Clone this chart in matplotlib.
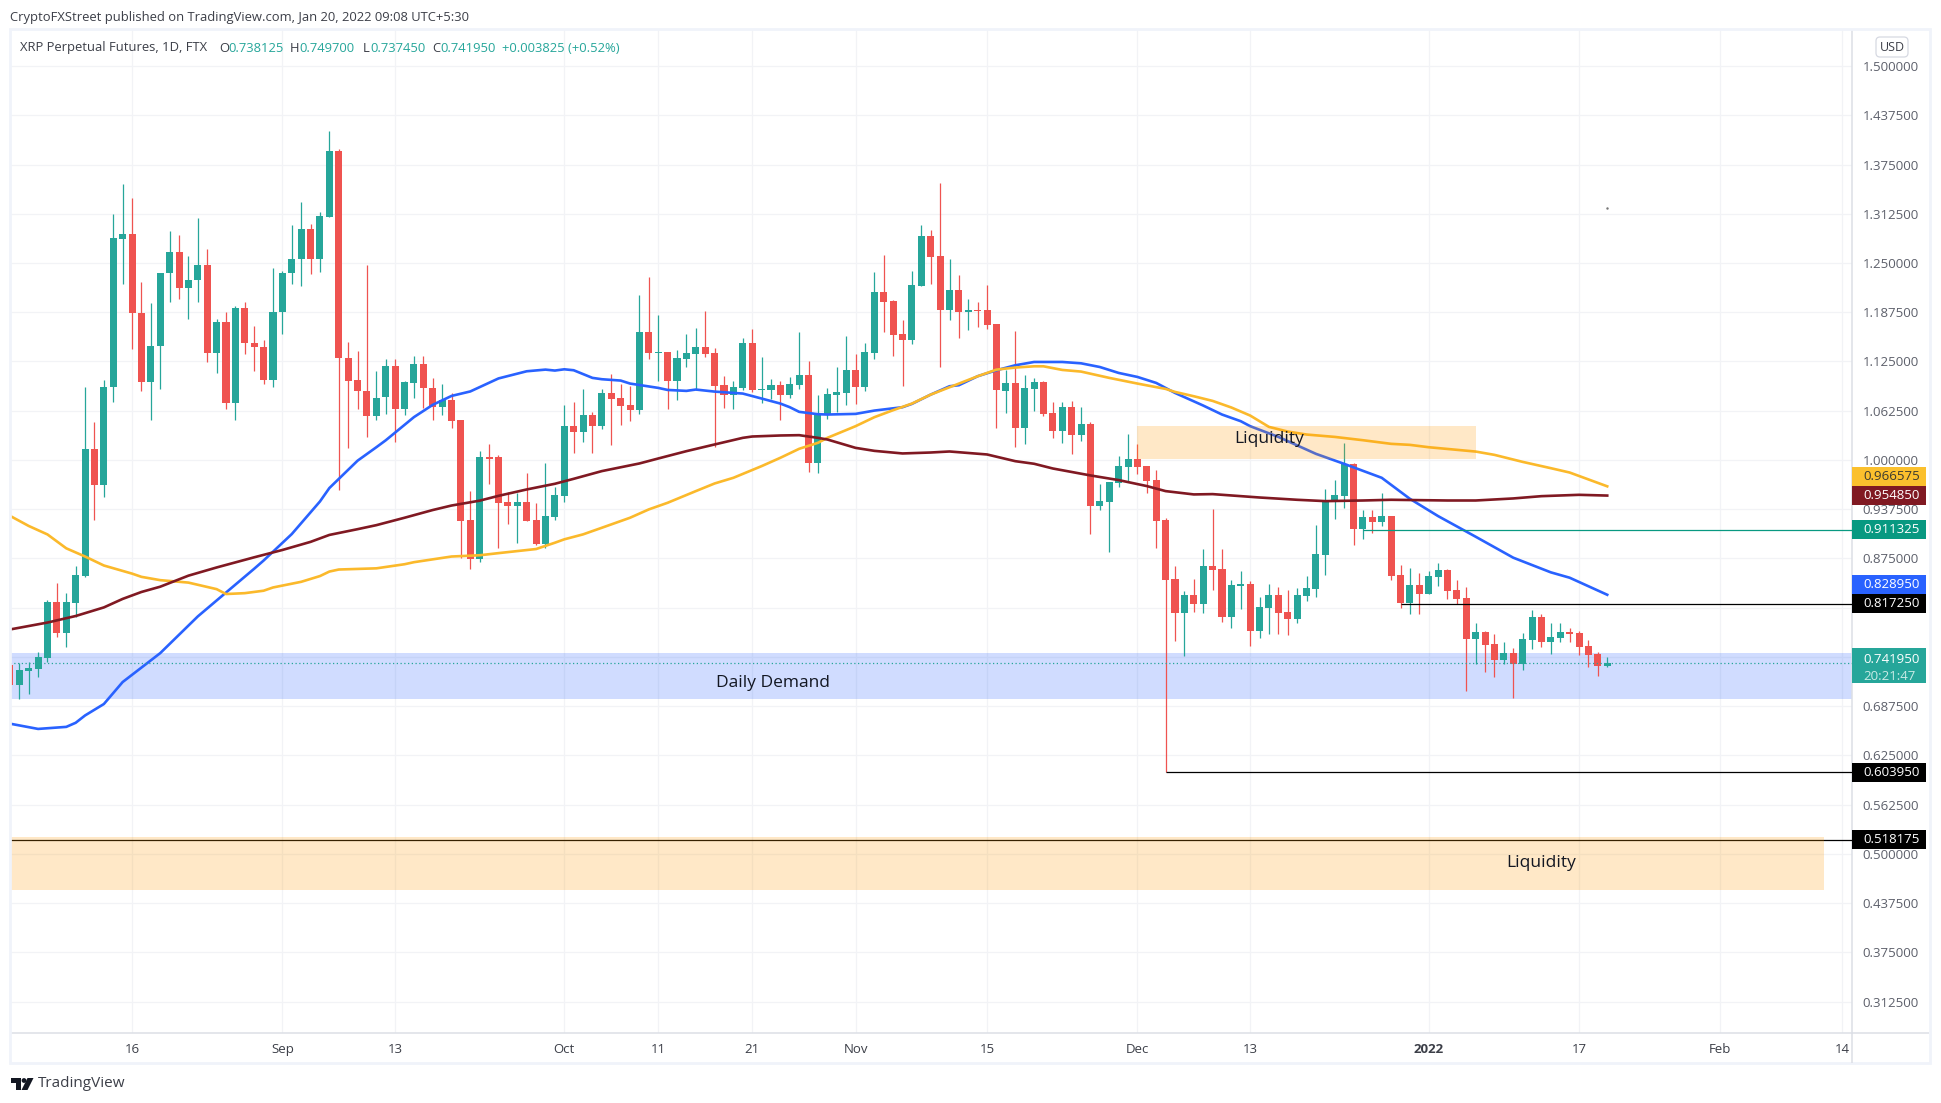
from datetime import date
import numpy as np
import matplotlib as mpl
mpl.use('Agg')
import matplotlib.pyplot as plt
from matplotlib.patches import Rectangle, Polygon, Circle, FancyBboxPatch
from matplotlib.transforms import Affine2D, blended_transform_factory

W, H = 1941, 1103
plt.rcParams['font.family'] = ['Open Sans', 'DejaVu Sans']

# daily candles, first one is 3 Aug 2021, last one 20 Jan 2022
start_day = date(2021, 8, 3)
opens = [
    .7394, .7141, .7327, .7348, .7487, .8196, .7808, .8180, .8522, 1.0136,
    .9680, 1.0922, 1.2810, 1.2872, 1.1869, 1.0989, 1.1445, 1.2370, 1.2645, 1.2179,
    1.2282, 1.2479, 1.1357, 1.1755, 1.0720, 1.1931, 1.1491, 1.1440, 1.1015, 1.1874,
    1.2370, 1.2546, 1.2934, 1.2557, 1.3090, 1.3922, 1.1300, 1.1010, 1.0880, 1.0555,
    1.0798, 1.1196, 1.0648, 1.0974, 1.1222, 1.0917, 1.0669, 1.0767, 1.0503, .9236,
    .8744, 1.0042, 1.0032, .9461, .9411, .9461, .9233, .8929, .9271, .9542,
    1.0437, 1.0361, 1.0577, 1.0437, 1.0856, 1.0792, 1.0704, 1.0640, 1.1629, 1.1363,
    1.1375, 1.1000, 1.1287, 1.1350, 1.1439, 1.1363, 1.0957, 1.0830, 1.0915, 1.1489,
    1.0894, 1.0894, 1.0957, 1.0830, 1.0957, 1.1084, .9956, 1.0577, 1.0830, 1.0856,
    1.1147, 1.0932, 1.1363, 1.2136, 1.2022, 1.1604, 1.1527, 1.2212, 1.2846, 1.2592,
    1.1908, 1.2161, 1.1882, 1.1908, 1.1908, 1.1730, 1.0881, 1.0983, 1.0412, 1.0906,
    1.0995, 1.0602, 1.0374, 1.0678, 1.0323, 1.0463, .9411, .9461, .9702, .9905,
    1.0007, .9918, .9740, .9233, .8485, .8055, .8283, .8169, .8650, .8612,
    .8004, .8397, .8422, .7826, .8117, .8282, .8067, .7978, .8269, .8358,
    .8790, .9474, .9537, .9943, .9119, .9271, .9207, .9284, .8536, .8181,
    .8409, .8295, .8510, .8599, .8346, .8244, .7724, .7813, .7661, .7458,
    .7547, .7408, .7712, .8003, .7686, .7737, .7813, .7800, .7636, .7534,
    .738125,
]
highs = [
    .7450, .7420, .7430, .7560, .8222, .8434, .8310, .8661, 1.0932, 1.0477,
    1.1010, 1.3126, 1.3503, 1.3327, 1.2262, 1.1998, 1.2376, 1.2908, 1.2857, 1.2593,
    1.3074, 1.2681, 1.1791, 1.1884, 1.1957, 1.2008, 1.1703, 1.1517, 1.2438, 1.2402,
    1.2986, 1.3276, 1.2996, 1.3152, 1.4176, 1.3948, 1.1501, 1.1387, 1.2479, 1.1134,
    1.1284, 1.1284, 1.1000, 1.1326, 1.1326, 1.1046, 1.0969, 1.0855, 1.0513, .9603,
    1.0110, 1.0198, 1.0058, .9600, .9584, .9829, .9449, .9956, .9652, 1.0704,
    1.0742, 1.0906, 1.0615, 1.0906, 1.1097, 1.0970, 1.0944, 1.2098, 1.2326, 1.1844,
    1.1375, 1.1400, 1.1604, 1.1680, 1.1895, 1.1426, 1.1071, 1.1000, 1.1553, 1.1667,
    1.1312, 1.1033, 1.1000, 1.1059, 1.1629, 1.1261, 1.0830, 1.0919, 1.1185, 1.1578,
    1.1350, 1.1490, 1.2389, 1.2605, 1.2034, 1.1781, 1.2402, 1.2985, 1.2922, 1.3517,
    1.2554, 1.2351, 1.2047, 1.2010, 1.2225, 1.1730, 1.1147, 1.1642, 1.1084, 1.1046,
    1.1008, 1.0742, 1.0742, 1.0754, 1.0678, 1.0488, .9690, .9715, 1.0045, 1.0336,
    1.0209, .9930, .9867, .9259, .8650, .8333, .8485, .8866, .9373, .8866,
    .8473, .8587, .8460, .8257, .8422, .8384, .8346, .8371, .8523, .9169,
    .9626, .9752, 1.0221, .9968, .9360, .9360, .9575, .9284, .8662, .8624,
    .8561, .8586, .8688, .8612, .8472, .8384, .7927, .7826, .7788, .7686,
    .7610, .7800, .8092, .8041, .7927, .7927, .7864, .7826, .7712, .7560,
    .749700,
]
lows = [
    .7050, .6965, .7027, .7244, .7430, .7756, .7622, .8010, .8511, .9241,
    .9525, 1.0731, 1.2236, 1.1413, 1.0870, 1.0513, 1.0907, 1.2008, 1.2045, 1.1791,
    1.2008, 1.1238, 1.1098, 1.0643, 1.0513, 1.1351, 1.1134, 1.0969, 1.0932, 1.1605,
    1.2236, 1.2210, 1.2365, 1.2391, 1.3090, .9613, 1.0146, 1.0653, 1.0296, 1.0513,
    1.0590, 1.0234, 1.0575, 1.0793, 1.0663, 1.0513, 1.0575, 1.0400, .8750, .8615,
    .8703, .9701, .8879, .9183, .8942, .9221, .8916, .8878, .9233, .9466,
    1.0095, 1.0222, 1.0083, 1.0399, 1.0184, 1.0450, 1.0500, 1.0590, 1.1287, 1.1000,
    1.0653, 1.0767, 1.1185, 1.0894, 1.1312, 1.0159, 1.0666, 1.0653, 1.0894, 1.0868,
    1.0729, 1.0780, 1.0513, 1.0792, 1.0906, .9842, .9829, 1.0526, 1.0615, 1.0704,
    1.0716, 1.0881, 1.1287, 1.1629, 1.1325, 1.0944, 1.1477, 1.2212, 1.2237, 1.1185,
    1.1781, 1.1553, 1.1654, 1.1692, 1.1667, 1.0412, 1.0602, 1.0159, 1.0197, 1.0628,
    1.0552, 1.0285, 1.0210, 1.0070, 1.0235, .9056, .9360, .8828, .9652, .9728,
    .9816, .9576, .8878, .60395, .7700, .7510, .8067, .8055, .8346, .7941,
    .7865, .8105, .7636, .7738, .7788, .7788, .7775, .7927, .8206, .8257,
    .8536, .9246, .9385, .8916, .9000, .9068, .9157, .8472, .8117, .8041,
    .8041, .8295, .8396, .8231, .8168, .7065, .7408, .7306, .7243, .7408,
    .6977, .7332, .7598, .7623, .7534, .7686, .7686, .7522, .7370, .7255,
    .737450,
]
closes = [
    .7141, .7332, .7358, .7498, .8196, .7808, .8196, .8537, 1.0136, .9680,
    1.0932, 1.2820, 1.2872, 1.1863, 1.0989, 1.1450, 1.2376, 1.2645, 1.2179, 1.2288,
    1.2479, 1.1357, 1.1755, 1.0720, 1.1931, 1.1481, 1.1429, 1.1015, 1.1884, 1.2376,
    1.2552, 1.2934, 1.2557, 1.3100, 1.3922, 1.1289, 1.1000, 1.0875, 1.0555, 1.0793,
    1.1196, 1.0648, 1.0984, 1.1222, 1.0912, 1.0669, 1.0767, 1.0493, .9225, .8744,
    1.0042, 1.0017, .9453, .9411, .9461, .9221, .8929, .9284, .9550, 1.0437,
    1.0361, 1.0577, 1.0437, 1.0856, 1.0780, 1.0691, 1.0640, 1.1629, 1.1363, 1.1375,
    1.1000, 1.1300, 1.1363, 1.1439, 1.1350, 1.0944, 1.0830, 1.0932, 1.1489, 1.0894,
    1.0906, 1.0957, 1.0830, 1.0970, 1.1084, .9956, 1.0602, 1.0843, 1.0868, 1.1147,
    1.0932, 1.1375, 1.2136, 1.2009, 1.1591, 1.1527, 1.2225, 1.2846, 1.2579, 1.1908,
    1.2161, 1.1882, 1.1908, 1.1895, 1.1718, 1.0885, 1.0983, 1.0412, 1.0919, 1.0995,
    1.0590, 1.0374, 1.0678, 1.0323, 1.0463, .9411, .9474, .9715, .9918, 1.0007,
    .9905, .9728, .9221, .8473, .8055, .8283, .8169, .8650, .8600, .8004,
    .8409, .8422, .7826, .8130, .8282, .8054, .7978, .8282, .8371, .8802,
    .9486, .9550, .9943, .9119, .9271, .9207, .9284, .8523, .8181, .8409,
    .8295, .8523, .8599, .8333, .8231, .7724, .7813, .7649, .7458, .7547,
    .7408, .7724, .8003, .7686, .7750, .7813, .7788, .7623, .7522, .7382,
    .741950,
]

# moving averages, days counted from 4 Aug
blue_days = [-1, 2, 5, 6, 7, 9, 11, 15, 19, 21, 25, 26, 29, 32, 33, 36, 38, 39, 42, 44,
             46, 48, 51, 54, 56, 57, 58, 59, 61, 62, 64, 65, 68, 69, 71, 72, 74, 77, 79, 81,
             82, 83, 85, 86, 89, 91, 94, 95, 97, 99, 100, 102, 104, 106, 108, 111, 113, 115, 117, 119,
             121, 123, 126, 128, 130, 131, 134, 138, 141, 145, 148, 151, 155, 159, 163, 165, 169]
blue_ma = [.6654, .6587, .6613, .6665, .6758, .6903, .7182, .7549, .8015, .8217, .8620, .8724, .9060, .9474, .9644, .9991, 1.0162, 1.0250, 1.0544, 1.0700,
           1.0813, 1.0870, 1.1035, 1.1126, 1.1147, 1.1135, 1.1151, 1.1139, 1.1042, 1.1025, 1.1008, 1.0970, 1.0915, 1.0889, 1.0877, 1.0894, 1.0868, 1.0843, 1.0780, 1.0716,
           1.0670, 1.0611, 1.0581, 1.0577, 1.0585, 1.0627, 1.0670, 1.0712, 1.0830, 1.0936, 1.0949, 1.1063, 1.1139, 1.1202, 1.1244, 1.1244, 1.1227, 1.1180, 1.1105, 1.1054,
           1.0978, 1.0851, 1.0691, 1.0577, 1.0492, 1.0429, 1.0293, 1.0078, .9951, .9774, .9507, .9288, .9026, .8760, .8574, .8506, .82895]

orange_days = [-1, 1, 3, 5, 7, 9, 12, 13, 15, 18, 21, 22, 24, 26, 27, 30, 32, 33, 34, 38,
               41, 42, 44, 46, 49, 51, 55, 57, 58, 60, 62, 65, 67, 69, 72, 74, 76, 79, 81, 83,
               85, 86, 89, 91, 93, 95, 97, 99, 102, 104, 106, 108, 109, 111, 113, 116, 119, 122, 123, 125,
               127, 129, 131, 133, 135, 137, 140, 143, 146, 148, 150, 155, 157, 160, 163, 165, 169]
orange_ma = [.9292, .9163, .9055, .8879, .8775, .8661, .8558, .8517, .8475, .8444, .8361, .8299, .8310, .8341, .8382, .8454, .8527, .8584, .8610, .8625,
             .8677, .8703, .8739, .8775, .8791, .8818, .8870, .8950, .8993, .9056, .9140, .9267, .9373, .9457, .9605, .9702, .9774, .9922, 1.0028, 1.0142,
             1.0218, 1.0281, 1.0429, 1.0543, 1.0632, 1.0716, 1.0830, 1.0923, 1.1063, 1.1147, 1.1173, 1.1189, 1.1189, 1.1143, 1.1122, 1.1042, 1.0970, 1.0902, 1.0864, 1.0809,
             1.0750, 1.0666, 1.0564, 1.0420, 1.0361, 1.0323, 1.0293, 1.0251, 1.0205, 1.0192, 1.0162, 1.0107, 1.0065, .9976, .9896, .9841, .966575]

maroon_days = [-1, 3, 6, 9, 11, 13, 15, 18, 21, 25, 28, 31, 33, 36, 38, 41, 44, 46, 49, 51,
               54, 57, 59, 62, 66, 68, 71, 74, 77, 78, 81, 83, 85, 86, 89, 91, 94, 97, 99, 103,
               106, 108, 110, 114, 117, 120, 122, 125, 127, 132, 136, 139, 143, 146, 152, 155, 159, 162, 166, 169]
maroon_ma = [.7849, .7937, .8020, .8129, .8237, .8325, .8392, .8532, .8636, .8765, .8858, .8961, .9049, .9122, .9173, .9267, .9365, .9422, .9484, .9545,
             .9626, .9698, .9761, .9859, .9956, 1.0019, 1.0112, 1.0197, 1.0281, 1.0298, 1.0311, 1.0315, 1.0281, 1.0260, 1.0154, 1.0116, 1.0083, 1.0095, 1.0108, 1.0070,
             .9985, .9952, .9892, .9804, .9745, .9669, .9605, .9563, .9567, .9524, .9495, .9478, .9486, .9495, .9486, .9486, .9512, .9541, .9558, .95485]

# axis labels
price_ticks = [1.5 - .0625 * i for i in range(20)]
date_ticks = [date(2021, 8, 16), date(2021, 9, 1), date(2021, 9, 13), date(2021, 10, 1), date(2021, 10, 11),
              date(2021, 10, 21), date(2021, 11, 1), date(2021, 11, 15), date(2021, 12, 1), date(2021, 12, 13),
              date(2022, 1, 1), date(2022, 1, 17), date(2022, 2, 1), date(2022, 2, 14)]
date_labels = ['16', 'Sep', '13', 'Oct', '11', '21', 'Nov', '15', 'Dec', '13', '2022', '17', 'Feb', '14']

# drawn zones and levels
demand_zone = (.6965, .7549)
upper_liquidity = (1.0011, 1.0437)
lower_liquidity = (.4544, .5216)
level_green = .911325
level_black_1 = .817250
level_black_2 = .603950
level_black_3 = .518175
last_price = .741950


def day_x(d):
    # x position of a calendar day, 4 Aug 2021 is 0
    return (d - date(2021, 8, 4)).days


UP = '#26a69a'
DOWN = '#ef5350'
BLUE = '#2962ff'
ORANGE = '#fbb92b'
MAROON = '#801922'
LEVEL = '#089981'
FRAME = '#f0f3fa'
GRID = '#f2f3f6'
AXIS_TXT = '#5d606b'

fig = plt.figure(figsize=(W / 100, H / 100), dpi=100, facecolor='white')
ax = fig.add_axes([11 / W, 1 - 1033 / H, (1852 - 11) / W, (1033 - 30) / H])
ax.set_xlim(-.883, 195.05)
ax.set_ylim(.2728, 1.5457)
ax.set_axisbelow(True)

x = np.arange(len(opens)) - 1
o, h, l, c = map(np.array, (opens, highs, lows, closes))
colors = np.where(c >= o, UP, DOWN)
ax.vlines(x, l, h, colors=colors, linewidth=.9, zorder=3)
ax.bar(x, np.abs(c - o), bottom=np.minimum(o, c), width=.75, color=colors, linewidth=0, zorder=3.1)

ax.plot(blue_days, blue_ma, color=BLUE, lw=1.9, zorder=4)
ax.plot(orange_days, orange_ma, color=ORANGE, lw=1.9, zorder=4)
ax.plot(maroon_days, maroon_ma, color=MAROON, lw=1.9, zorder=4)

ax.axhspan(demand_zone[0], demand_zone[1], color=BLUE, alpha=.22, lw=0, zorder=2)
ax.add_patch(Rectangle((119, upper_liquidity[0]), 155 - 119, upper_liquidity[1] - upper_liquidity[0],
                       facecolor='#ff9800', alpha=.22, lw=0, zorder=5))
ax.add_patch(Rectangle((-1, lower_liquidity[0]), 192.1 + 1, lower_liquidity[1] - lower_liquidity[0],
                       facecolor='#ff9800', alpha=.22, lw=0, zorder=5))

ax.hlines(last_price, -1, 196, colors=UP, linestyles=(0, (1, 2)), linewidth=.9, zorder=4)
ax.hlines(level_green, 143, 196, colors=LEVEL, linewidth=.9, zorder=4)
ax.hlines(level_black_1, 147, 196, colors='black', linewidth=.9, zorder=4)
ax.hlines(level_black_2, 122, 196, colors='black', linewidth=.9, zorder=4)
ax.hlines(level_black_3, -1, 196, colors='black', linewidth=.9, zorder=4)
ax.plot([169], [1.32], marker='.', ms=1.5, color='#777777', zorder=4)

ax.text(133, 1.0265, 'Liquidity', fontsize=12.5, color='#131722', ha='center', va='center', zorder=6)
ax.text(80.2, .7172, 'Daily Demand', fontsize=12.5, color='#131722', ha='center', va='center', zorder=6)
ax.text(162, .4891, 'Liquidity', fontsize=12.5, color='#131722', ha='center', va='center', zorder=6)

ax.yaxis.tick_right()
ax.set_yticks(price_ticks)
ax.set_yticklabels(['%.6f' % p for p in price_ticks])
ax.set_xticks([day_x(d) for d in date_ticks])
ax.set_xticklabels(date_labels)
ax.tick_params(axis='y', length=0, pad=7.5, labelsize=9.5, labelcolor=AXIS_TXT)
ax.tick_params(axis='x', length=0, pad=7.5, labelsize=9.5, labelcolor='#3c3f48')
ax.get_xticklabels()[10].set_fontweight('bold')
ax.grid(True, color=GRID, linewidth=.9)
for name in ('top', 'left'):
    ax.spines[name].set_visible(False)
for name in ('right', 'bottom'):
    ax.spines[name].set_color('#dcdfe6')
    ax.spines[name].set_linewidth(1.1)

# price tags on the right axis, some sit above their level so they do not overlap
tag_tr = blended_transform_factory(ax.transAxes, ax.transData)
tag_w = 74 / (1852 - 11)
tag_h = 19 / 788
tags = [
    (.9791, '0.966575', '#fbc02d', '#3b3a30'),
    (.95485, '0.954850', MAROON, 'white'),
    (.911325, '0.911325', LEVEL, 'white'),
    (.8417, '0.828950', BLUE, 'white'),
    (.81725, '0.817250', 'black', 'white'),
    (.60395, '0.603950', 'black', 'white'),
    (.518175, '0.518175', 'black', 'white'),
]
for p, label, bg, fg in tags:
    ax.add_patch(Rectangle((1, p - tag_h / 2), tag_w, tag_h, transform=tag_tr, facecolor=bg, lw=0,
                           clip_on=False, zorder=8))
    ax.text(1 + 11 / 1841, p, label, transform=tag_tr, color=fg, fontsize=9.5, ha='left', va='center',
            clip_on=False, zorder=9)
ax.add_patch(Rectangle((1, .7174), tag_w, 35 / 788, transform=tag_tr, facecolor=UP, lw=0, clip_on=False, zorder=8))
ax.text(1 + 11 / 1841, .7472, '0.741950', transform=tag_tr, color='white', fontsize=9.5, ha='left', va='center', zorder=9)
ax.text(1 + 11 / 1841, .7256, '20:21:47', transform=tag_tr, color='#c9ebe6', fontsize=9.5, ha='left', va='center', zorder=9)

# frame and furniture in figure pixels
px = Affine2D().scale(1 / W, -1 / H).translate(0, 1) + fig.transFigure
fig.add_artist(Rectangle((10, 29), 1920, 1034, transform=px, fill=False, edgecolor=FRAME, lw=2))
fig.add_artist(Polygon([(1852, 1033), (1852, 1063)], closed=False, transform=px, fill=False, edgecolor='#dcdfe6', lw=1.1))
fig.add_artist(Polygon([(1852, 1033), (1929, 1033)], closed=False, transform=px, fill=False, edgecolor='#dcdfe6', lw=1.1))
fig.add_artist(FancyBboxPatch((1878, 39), 28, 16, boxstyle='round,pad=2,rounding_size=4', transform=px,
                              facecolor='white', edgecolor='#d6d9e2', lw=.9))
fig.text(1892 / W, 1 - 47.5 / H, 'USD', fontsize=9, color='#3c3f48', ha='center', va='center')

fig.text(10.5 / W, 1 - 17 / H, 'CryptoFXStreet published on TradingView.com, Jan 20, 2022 09:08 UTC+5:30',
         fontsize=9.4, color='#3c3f48', va='center')
legend_row = [
    (20, 'XRP Perpetual Futures, 1D, FTX', '#3c3f48'),
    (219, 'O', '#3c3f48'), (228, '0.738125', UP),
    (290, 'H', '#3c3f48'), (299, '0.749700', UP),
    (362.5, 'L', '#3c3f48'), (370, '0.737450', UP),
    (432, 'C', '#3c3f48'), (440, '0.741950', UP),
    (502, '+0.003825 (+0.52%)', UP),
]
for lx, label, col in legend_row:
    fig.text(lx / W, 1 - 48 / H, label, fontsize=9.4, color=col, va='center')

# TradingView logo
fig.add_artist(Polygon([(11, 1078), (21, 1078), (21, 1090), (16, 1090), (16, 1083), (11, 1083)], transform=px,
                       facecolor='#131722', lw=0))
fig.add_artist(Circle((24, 1080.5), 2.4, transform=px, facecolor='#131722', lw=0))
fig.add_artist(Polygon([(27.5, 1078), (33.5, 1078), (27.5, 1090), (21.5, 1090)], transform=px,
                       facecolor='#131722', lw=0))
fig.text(38 / W, 1 - 1083.5 / H, 'TradingView', fontsize=11, color='#3c3f48', va='center')

fig.savefig('out.png', dpi=100)
